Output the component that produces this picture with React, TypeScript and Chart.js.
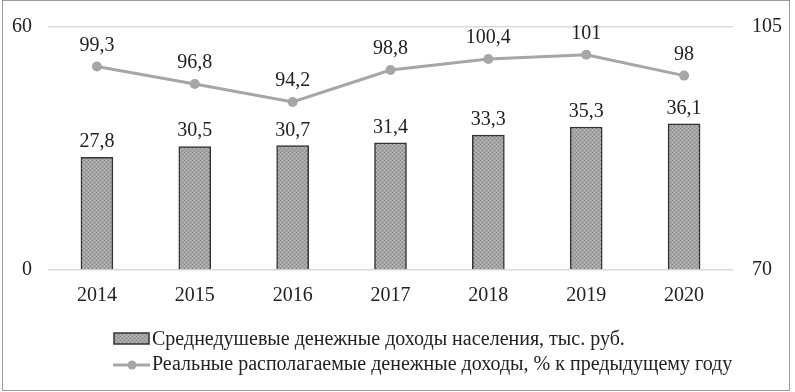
import React, { useEffect, useRef } from "react";
import { Chart, registerables } from "chart.js";

Chart.register(...registerables);

const years = ["2014", "2015", "2016", "2017", "2018", "2019", "2020"];
const incomeValues = [27.8, 30.5, 30.7, 31.4, 33.3, 35.3, 36.1];
const realIncomeValues = [99.3, 96.8, 94.2, 98.8, 100.4, 101, 98];
const incomeLabels = ["27,8", "30,5", "30,7", "31,4", "33,3", "35,3", "36,1"];
const realIncomeLabels = ["99,3", "96,8", "94,2", "98,8", "100,4", "101", "98"];
const leftTicks = [0, 60];
const rightTicks = [70, 105];
const legendLabels = [
  "Среднедушевые денежные доходы населения, тыс. руб.",
  "Реальные располагаемые денежные доходы, % к предыдущему году",
];

const FONT = '"Liberation Serif", "Times New Roman", serif';
const TEXT = "#222222";
const LINE = "#a6a6a6";

function makePattern(ctx: CanvasRenderingContext2D): CanvasPattern | string {
  const c = document.createElement("canvas");
  c.width = 4;
  c.height = 4;
  const p = c.getContext("2d");
  if (!p) return "#a0a0a0";
  p.fillStyle = "#a3a3a3";
  p.fillRect(0, 0, 4, 4);
  p.fillStyle = "#8a8a8a";
  p.fillRect(0, 0, 1, 1);
  p.fillRect(2, 2, 1, 1);
  p.fillStyle = "#bdbdbd";
  p.fillRect(2, 0, 1, 1);
  p.fillRect(0, 2, 1, 1);
  return ctx.createPattern(c, "repeat") || "#a0a0a0";
}

export default function App() {
  const ref = useRef<HTMLCanvasElement | null>(null);

  useEffect(() => {
    const canvas = ref.current;
    if (!canvas) return;
    const ctx = canvas.getContext("2d")!;
    const pattern = makePattern(ctx);

    const labelsPlugin = {
      id: "valueLabels",
      afterDatasetsDraw(chart: any) {
        const c = chart.ctx;
        c.save();
        c.font = `20px ${FONT}`;
        c.fillStyle = TEXT;
        c.textAlign = "center";
        c.textBaseline = "alphabetic";
        const m0 = chart.getDatasetMeta(0);
        m0.data.forEach((el: any, i: number) => {
          c.fillText(incomeLabels[i], el.x, el.y - 10);
        });
        const m1 = chart.getDatasetMeta(1);
        m1.data.forEach((el: any, i: number) => {
          c.fillText(realIncomeLabels[i], el.x, el.y - 16);
        });
        c.restore();
      },
    };

    const legendPlugin = {
      id: "customLegend",
      afterDraw(chart: any) {
        const c = chart.ctx;
        c.save();
        c.fillStyle = pattern;
        c.fillRect(114, 333, 35, 11);
        c.strokeStyle = "#333";
        c.lineWidth = 1.5;
        c.strokeRect(114, 333, 35, 11);
        c.strokeStyle = LINE;
        c.lineWidth = 3;
        c.beginPath();
        c.moveTo(113, 365);
        c.lineTo(150, 365);
        c.stroke();
        c.fillStyle = LINE;
        c.beginPath();
        c.arc(132, 365, 4.5, 0, Math.PI * 2);
        c.fill();
        c.font = `20px ${FONT}`;
        c.fillStyle = TEXT;
        c.textAlign = "left";
        c.textBaseline = "alphabetic";
        c.fillText(legendLabels[0], 152, 345);
        c.fillText(legendLabels[1], 152, 370);
        c.restore();
      },
    };

    const chart = new Chart(ctx, {
      type: "bar",
      data: {
        labels: years,
        datasets: [
          {
            type: "bar",
            label: legendLabels[0],
            data: incomeValues,
            backgroundColor: pattern as any,
            borderColor: "#333333",
            borderWidth: 1.5,
            barThickness: 32,
            yAxisID: "y",
            order: 2,
          },
          {
            type: "line",
            label: legendLabels[1],
            data: realIncomeValues,
            borderColor: LINE,
            backgroundColor: LINE,
            borderWidth: 3,
            pointRadius: 5,
            pointBackgroundColor: LINE,
            pointBorderWidth: 0,
            tension: 0,
            yAxisID: "y1",
            order: 1,
          },
        ],
      },
      options: {
        responsive: false,
        animation: false,
        layout: { padding: { top: 27, left: 0, right: 0, bottom: 0 } },
        plugins: {
          legend: { display: false },
          tooltip: { enabled: false },
        },
        scales: {
          x: {
            grid: { display: false },
            border: { display: false },
            ticks: { font: { family: FONT, size: 20 }, color: TEXT, padding: 6 },
            afterFit: (s: any) => {
              s.height = 122;
              s.paddingLeft = 0;
              s.paddingRight = 0;
            },
          },
          y: {
            position: "left",
            min: 0,
            max: 60,
            afterBuildTicks: (s: any) => {
              s.ticks = leftTicks.map((v) => ({ value: v }));
            },
            afterFit: (s: any) => {
              s.width = 48;
              s.paddingTop = 0;
              s.paddingBottom = 0;
            },
            grid: { color: "#d9d9d9", drawTicks: false, lineWidth: 1.5 },
            border: { display: false },
            ticks: { font: { family: FONT, size: 20 }, color: TEXT, padding: 16 },
          },
          y1: {
            position: "right",
            min: 70,
            max: 105,
            afterBuildTicks: (s: any) => {
              s.ticks = rightTicks.map((v) => ({ value: v }));
            },
            afterFit: (s: any) => {
              s.width = 62;
              s.paddingTop = 0;
              s.paddingBottom = 0;
            },
            grid: { display: false, drawTicks: false },
            border: { display: false },
            ticks: { font: { family: FONT, size: 20 }, color: TEXT, padding: 19 },
          },
        },
      } as any,
      plugins: [labelsPlugin, legendPlugin],
    });

    return () => chart.destroy();
  }, []);

  return (
    <div style={{ position: "absolute", left: 0, top: 0, width: 795, height: 392, background: "#fff" }}>
      <canvas ref={ref} width={795} height={392} style={{ display: "block", width: 795, height: 392 }} />
      <div
        style={{
          position: "absolute",
          left: 2,
          top: 0,
          width: 786,
          height: 389,
          border: "1px solid #9a9a9a",
          pointerEvents: "none",
        }}
      />
    </div>
  );
}
